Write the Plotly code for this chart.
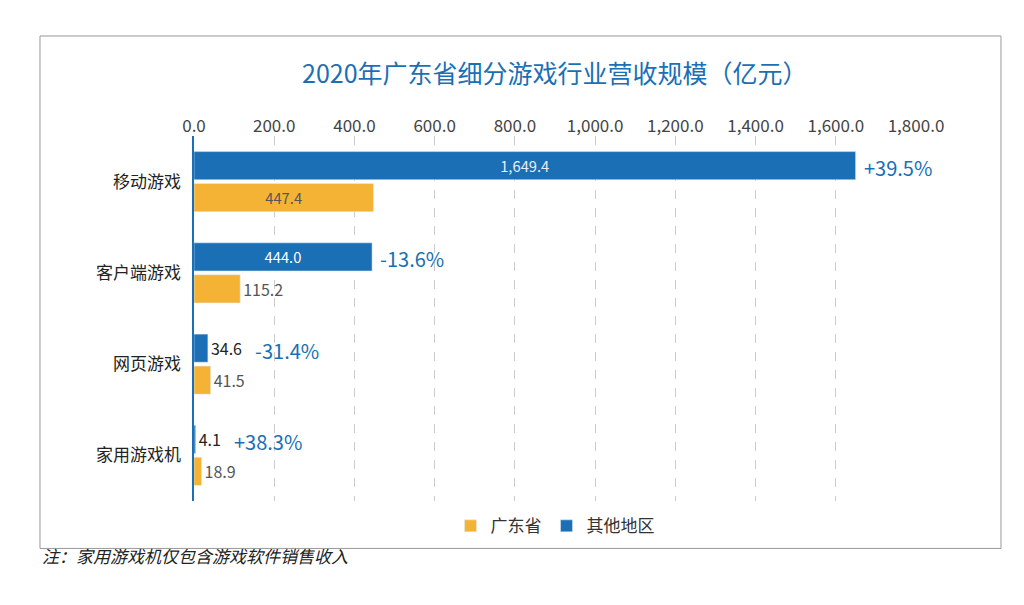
import plotly.graph_objects as go

categories = ["移动游戏", "客户端游戏", "网页游戏", "家用游戏机"]
other = [1649.4, 444.0, 34.6, 4.1]
guangdong = [447.4, 115.2, 41.5, 18.9]
growth = ["+39.5%", "-13.6%", "-31.4%", "+38.3%"]

blue = "#1a6fb5"
orange = "#f5b335"

fig = go.Figure()
fig.add_trace(go.Bar(
    y=categories, x=other, orientation="h", name="其他地区",
    marker_color=blue, texttemplate="%{x:,.1f}",
    textposition=["inside", "inside", "outside", "outside"],
    insidetextanchor="middle",
    textfont=dict(size=16, color=["#e8eef7", "white", "#222", "#222"]),
    cliponaxis=False,
))
fig.add_trace(go.Bar(
    y=categories, x=guangdong, orientation="h", name="广东省",
    marker_color=orange, texttemplate="%{x:,.1f}",
    textposition=["inside", "outside", "outside", "outside"],
    insidetextanchor="middle",
    textfont=dict(size=16, color="#555"),
    cliponaxis=False,
))

shifts = [6, 6, 45, 36]
for cat, val, g, s in zip(categories, other, growth, shifts):
    fig.add_annotation(x=val, y=cat, text=g, showarrow=False, xanchor="left",
                       xshift=s, yshift=14, font=dict(size=20, color=blue))

fig.add_shape(type="rect", xref="paper", yref="paper",
              x0=-0.2133, x1=1.1177, y0=-0.13, y1=1.274,
              line=dict(color="#999", width=1))

fig.add_annotation(xref="paper", yref="paper", x=0.5, y=1.23, showarrow=False,
                   text="2020年广东省细分游戏行业营收规模（亿元）",
                   font=dict(size=25, color=blue), xanchor="center")
fig.add_annotation(xref="paper", yref="paper", x=-0.2133, y=-0.19, showarrow=False,
                   xanchor="left", text="<i>注：家用游戏机仅包含游戏软件销售收入</i>",
                   font=dict(size=17, color="#222"))

fig.update_layout(
    width=1024, height=605,
    margin=dict(l=186, r=116, t=128, b=112),
    paper_bgcolor="white", plot_bgcolor="white",
    font=dict(family="Noto Sans CJK SC", color="#333"),
    barmode="group", bargap=0.3, bargroupgap=0.12,
    showlegend=True,
    legend=dict(orientation="h", x=0.5, xanchor="center", y=-0.02, yanchor="top",
                traceorder="reversed", font=dict(size=17)),
    xaxis=dict(side="top", range=[0, 1800], dtick=200, tickformat=",.1f",
               showgrid=True, gridcolor="#cccccc", griddash="dash",
               tickfont=dict(size=17, color="#444"), zeroline=False,
               fixedrange=True),
    yaxis=dict(autorange="reversed", showline=True, linecolor=blue, linewidth=2,
               tickfont=dict(size=17, color="#222"), ticks="", ticklen=0),
)
fig.update_yaxes(ticksuffix="  ")

fig.write_html("out.html")
